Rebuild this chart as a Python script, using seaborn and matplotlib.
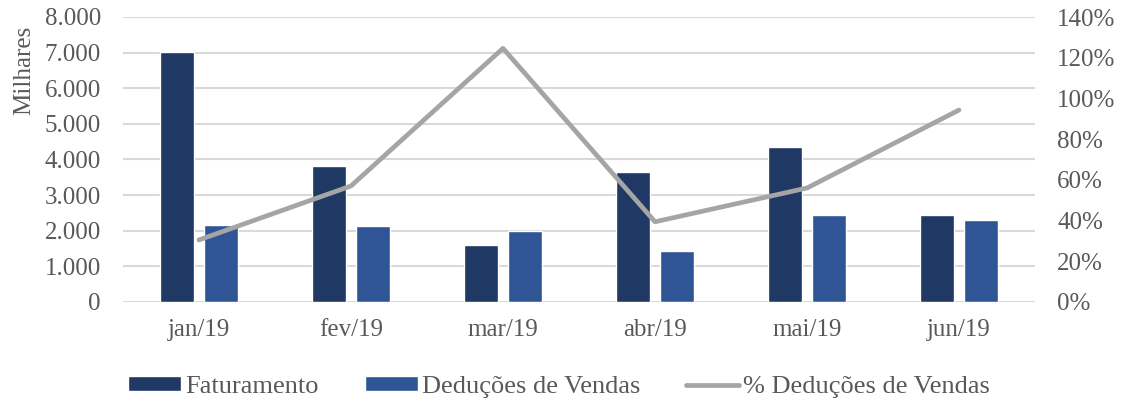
import numpy as np
import pandas as pd
import matplotlib
matplotlib.use("Agg")
import matplotlib.pyplot as plt
import seaborn as sns
from matplotlib.patches import Patch
from matplotlib.lines import Line2D

months = ["jan/19", "fev/19", "mar/19", "abr/19", "mai/19", "jun/19"]
faturamento = [7030, 3810, 1590, 3660, 4360, 2430]
deducoes = [2150, 2140, 2000, 1440, 2450, 2310]
pct_deducoes = [0.305, 0.57, 1.246, 0.394, 0.56, 0.943]
left_ticks = [0, 1000, 2000, 3000, 4000, 5000, 6000, 7000, 8000]
right_ticks = [0, 0.2, 0.4, 0.6, 0.8, 1.0, 1.2, 1.4]
series_names = ["Faturamento", "Deduções de Vendas", "% Deduções de Vendas"]

sns.set_theme(style="white")
plt.rcParams["font.family"] = ["Liberation Serif", "DejaVu Serif"]
TXT = "#595959"
FS = 18
C_FAT = "#203864"
C_DED = "#2F5597"
C_LINE = "#A5A5A5"

df = pd.DataFrame({
    "mes": months * 2,
    "valor": faturamento + deducoes,
    "serie": [series_names[0]] * 6 + [series_names[1]] * 6,
})

fig = plt.figure(figsize=(11.25, 4.01), dpi=100)
ax = fig.add_axes([123 / 1125, 1 - 302 / 401, 912 / 1125, 285 / 401])

sns.barplot(data=df, x="mes", y="valor", hue="serie", order=months,
            hue_order=series_names[:2], palette=[C_FAT, C_DED],
            width=0.57, gap=0.22, ax=ax, legend=False, saturation=1)
ax.set_ylim(0, 8000)
ax.set_yticks(left_ticks)
ax.set_yticklabels([f"{v:,}".replace(",", ".") for v in left_ticks])
ax.set_xlabel("")
ax.set_ylabel("")
ax.grid(axis="y", color="#D9D9D9", linewidth=1.5)
ax.set_axisbelow(True)
for s in ax.spines.values():
    s.set_visible(False)
ax.tick_params(axis="y", length=0, pad=16, labelsize=FS, labelcolor=TXT)
ax.tick_params(axis="x", length=0, pad=12, labelsize=FS, labelcolor=TXT)

ax2 = ax.twinx()
sns.lineplot(x=months, y=pct_deducoes, sort=False, color=C_LINE,
             linewidth=3.4, ax=ax2, legend=False)
ax2.set_ylim(0, 1.4)
ax2.set_yticks(right_ticks)
ax2.set_yticklabels([f"{int(round(v * 100))}%" for v in right_ticks])
ax2.set_xlim(-0.5, 5.5)
for s in ax2.spines.values():
    s.set_visible(False)
ax2.tick_params(axis="y", length=0, pad=16, labelsize=FS, labelcolor=TXT)
ax2.grid(False)

fig.text(24 / 1125, 1 - 70 / 401, "Milhares", rotation=90, ha="center",
         va="center", fontsize=FS, color=TXT)

handles = [Patch(facecolor=C_FAT), Patch(facecolor=C_DED),
           Line2D([0], [0], color=C_LINE, linewidth=3.4)]
leg = fig.legend(handles, series_names, loc="center", bbox_to_anchor=(0.497, 1 - 387 / 401),
                 ncol=3, frameon=False, fontsize=19, handlelength=2.0,
                 handleheight=0.5, handletextpad=0.15, columnspacing=1.75,
                 labelcolor=TXT)

fig.savefig("out.png", dpi=100)
